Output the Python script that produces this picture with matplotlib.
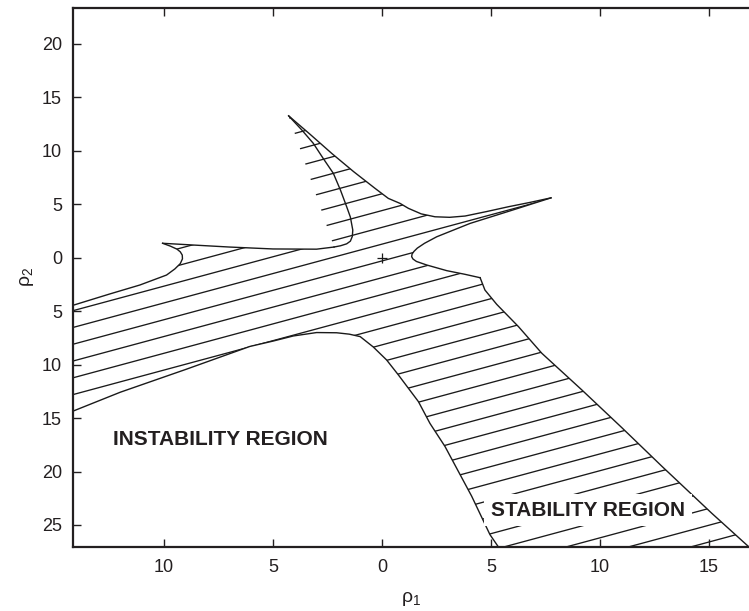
import matplotlib
matplotlib.use('Agg')

import matplotlib.pyplot as plt
import numpy as np
from matplotlib.patches import Polygon
from matplotlib.collections import LineCollection

plt.rcParams['font.family'] = ['Liberation Sans', 'DejaVu Sans']
plt.rcParams['mathtext.fontset'] = 'custom'
plt.rcParams['mathtext.rm'] = 'Liberation Sans'
plt.rcParams['mathtext.it'] = 'Liberation Sans'

# boundary pieces of the stability region
spike_left_x = [-2.20, -1.90, -1.62, -1.45, -1.36, -1.34, -1.45, -1.62, -1.90, -2.23, -2.70, -3.15, -3.70, -4.28]
spike_left_y = [1.00, 1.12, 1.30, 1.55, 2.00, 2.59, 3.80, 4.77, 6.30, 7.89, 9.30, 10.70, 12.00, 13.27]

spike_right_x = [-4.28, -3.30, -2.30, -1.30, -0.32, 0.29, 0.83, 1.21, 1.80, 2.43, 3.10, 3.81, 4.80, 5.80, 6.80, 7.75]
spike_right_y = [13.27, 11.55, 9.75, 8.05, 6.49, 5.55, 5.08, 4.62, 4.10, 3.83, 3.78, 3.90, 4.32, 4.77, 5.18, 5.60]

tip_lower_x = [7.75, 5.90, 4.04, 2.51, 1.95, 1.62, 1.47, 1.38, 1.36, 1.42, 1.58, 2.05, 2.97, 3.80, 4.50]
tip_lower_y = [5.60, 4.40, 3.21, 1.96, 1.35, 0.90, 0.60, 0.35, 0.10, -0.12, -0.35, -0.68, -1.21, -1.55, -1.87]

right_x = [4.50, 4.72, 5.26, 6.26, 7.33, 9.16, 11.00, 12.83, 15.12, 16.83]
right_y = [-1.87, -3.02, -4.36, -6.45, -8.94, -12.36, -15.90, -19.50, -23.90, -27.06]

inner_x = [5.34, 4.95, 4.11, 2.89, 2.20, 1.67, 0.75, 0.21, -0.40, -1.00, -1.50, -2.08, -3.00, -4.07,
           -5.00, -6.06, -9.00, -12.00, -14.17]
inner_y = [-27.06, -25.90, -22.30, -17.66, -15.50, -13.46, -10.96, -9.56, -8.35, -7.38, -7.15, -7.02, -7.00,
           -7.32, -7.80, -8.30, -10.45, -12.58, -14.35]

cusp_x = [-14.17, -12.50, -11.10, -9.88, -9.50, -9.25, -9.15, -9.16, -9.25, -9.40, -9.70, -10.06]
cusp_y = [-4.45, -3.40, -2.55, -1.62, -1.05, -0.55, -0.10, 0.25, 0.55, 0.80, 1.08, 1.35]

top_x = [-10.06, -8.50, -7.00, -5.00, -3.00, -2.20]
top_y = [1.35, 1.17, 1.00, 0.82, 0.80, 1.00]

# hatch lines y = slope*x + b
hatch_slope = 0.55
hatch_b = np.arange(-38.1, 16.5, 1.57) + 0.12

x_ticks = [-10, -5, 0, 5, 10, 15]
y_ticks = [20, 15, 10, 5, 0, -5, -10, -15, -20, -25]

fig = plt.figure(figsize=(7.49, 6.11), dpi=100)
ax = fig.add_axes([73 / 749, 1 - 547 / 611, 676 / 749, 539 / 611])
ax.set_xlim(-14.17, 16.83)
ax.set_ylim(-27.06, 23.36)

poly_x = (spike_left_x[::-1][:-1] + spike_right_x + tip_lower_x[1:] + right_x[1:]
          + inner_x + cusp_x + top_x[1:])
poly_y = (spike_left_y[::-1][:-1] + spike_right_y + tip_lower_y[1:] + right_y[1:]
          + inner_y + cusp_y + top_y[1:])
region = Polygon(np.column_stack([poly_x, poly_y]), closed=True, facecolor='none',
                 edgecolor='none', transform=ax.transData)
ax.add_patch(region)

xs = np.array([-16.0, 18.0])
segs = [np.column_stack([xs, hatch_slope * xs + b]) for b in hatch_b]
lc = LineCollection(segs, colors='#1a1a1a', linewidths=0.95)
ax.add_collection(lc)
lc.set_clip_path(region)

for bx, by in [(spike_left_x, spike_left_y), (spike_right_x, spike_right_y),
               (tip_lower_x, tip_lower_y), (right_x, right_y), (inner_x, inner_y),
               (cusp_x, cusp_y), (top_x, top_y)]:
    ax.plot(bx, by, color='#1a1a1a', lw=1.0, solid_joinstyle='round')

ax.plot([0], [0], marker='+', color='#1a1a1a', ms=7, mew=0.9)

ax.text(-7.39, -17.0, 'INSTABILITY REGION', fontsize=15, fontweight='bold',
        color='#231f20', ha='center', va='center')
ax.text(9.43, -23.6, 'STABILITY REGION', fontsize=15, fontweight='bold',
        color='#231f20', ha='center', va='center',
        bbox=dict(facecolor='white', edgecolor='none', pad=5))

ax.set_xticks(x_ticks)
ax.set_xticklabels([str(abs(v)) for v in x_ticks])
ax.set_yticks(y_ticks)
ax.set_yticklabels([str(abs(v)) for v in y_ticks])
ax.tick_params(direction='in', length=6, width=1.0, labelsize=13, colors='#231f20',
               top=True, right=False)
ax.tick_params(axis='x', pad=9)
ax.tick_params(axis='y', pad=8)
for side in ['left', 'bottom', 'top']:
    ax.spines[side].set_linewidth(1.6)
    ax.spines[side].set_color('#231f20')
ax.spines['right'].set_visible(False)

ax.set_xlabel(r'$\rho_1$', fontsize=14, labelpad=10, color='#231f20')
ax.set_ylabel(r'$\rho_2$', fontsize=14, labelpad=4, color='#231f20')

fig.savefig('out.png', dpi=100)
